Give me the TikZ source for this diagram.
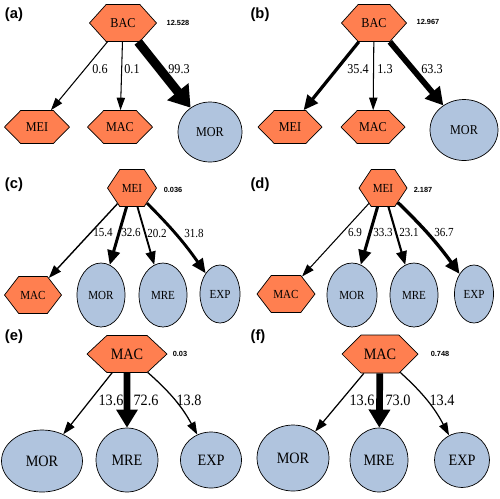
\documentclass[tikz,border=0pt]{standalone}
\usepackage{fontspec}
\setmainfont{Liberation Serif}[FakeStretch=0.9]
\newfontfamily\tagsans{Liberation Sans}
\usetikzlibrary{arrows.meta,shapes.geometric,shapes.symbols}
\definecolor{hexorange}{RGB}{255,127,80}
\definecolor{ovalblue}{RGB}{176,196,222}
\newcommand\scorefont{\tagsans\bfseries\fontsize{4.2}{5}\selectfont}
\newcommand\panelfont{\tagsans\bfseries\fontsize{8.4}{10}\selectfont}

\begin{document}
\begin{tikzpicture}[x=0.02cm,y=-0.02cm,
  hexa/.style={shape=signal, signal to=east and west, signal pointer angle=#1,
    draw, fill=hexorange, inner sep=0pt, line width=0.4pt},
  hexa/.default=96,
  oval/.style={ellipse, draw, fill=ovalblue, inner sep=0pt, line width=0.4pt},
  flow/.style={line width={max(0.6,#1*0.052)*1pt},
    -{Triangle[length=6.5pt 1.0, width=3.4pt 2.2]}},
  wt/.style={inner sep=0pt},
  score/.style={font=\scorefont, inner sep=0pt},
  panel/.style={font=\panelfont, inner sep=0pt},
  txt/.style={nodes={font=\fontsize{#1}{#1}\selectfont}}]
  \useasboundingbox (0,0) rectangle (500,498);

  % (a)
  \begin{scope}[txt=7.7]
  \node[panel] (pa) at (14,15) {(a)};
  \node[hexa=96, minimum width=1.34cm, minimum height=0.74cm] (bacA) at (123,23) {BAC};
  \node[score] (sa) at (178,23) {12.528};
  \node[hexa=91, minimum width=1.30cm, minimum height=0.66cm] (meiA) at (37,127) {MEI};
  \node[hexa=91, minimum width=1.30cm, minimum height=0.66cm] (macA) at (120,127) {MAC};
  \node[oval, minimum width=1.28cm, minimum height=1.20cm] (morA) at (210,132) {MOR};
  \draw[flow=0.6] (bacA) -- (meiA);
  \draw[flow=0.1] (bacA) -- (macA);
  \draw[flow=99.3] (bacA) -- (morA);
  \node[wt] (wa1) at (100,69) {0.6};
  \node[wt] (wa2) at (132,69) {0.1};
  \node[wt] (wa3) at (179,69) {99.3};
  \end{scope}

  % (b)
  \begin{scope}[txt=7.7]
  \node[panel] (pb) at (260,15) {(b)};
  \node[hexa=96, minimum width=1.30cm, minimum height=0.74cm] (bacB) at (374,23) {BAC};
  \node[score] (sb) at (428,22) {12.967};
  \node[hexa=91, minimum width=1.28cm, minimum height=0.66cm] (meiB) at (290,127) {MEI};
  \node[hexa=91, minimum width=1.28cm, minimum height=0.66cm] (macB) at (373,127) {MAC};
  \node[oval, minimum width=1.36cm, minimum height=1.22cm] (morB) at (464,130) {MOR};
  \draw[flow=35.4] (bacB) -- (meiB);
  \draw[flow=1.3] (bacB) -- (macB);
  \draw[flow=63.3] (bacB) -- (morB);
  \node[wt] (wb1) at (358,69) {35.4};
  \node[wt] (wb2) at (385,69) {1.3};
  \node[wt] (wb3) at (432,69) {63.3};
  \end{scope}

  % (c)
  \begin{scope}[txt=7]
  \node[panel] (pc) at (14,185) {(c)};
  \node[hexa=113, minimum width=0.98cm, minimum height=0.74cm] (meiC) at (132,188) {MEI};
  \node[score] (sc) at (173,190) {0.036};
  \node[hexa=105, minimum width=1.14cm, minimum height=0.74cm] (macC) at (33,295) {MAC};
  \node[oval, minimum width=0.96cm, minimum height=1.28cm] (morC) at (101,295) {MOR};
  \node[oval, minimum width=0.96cm, minimum height=1.28cm] (mreC) at (163,295) {MRE};
  \node[oval, minimum width=0.80cm, minimum height=1.16cm] (expC) at (220,294) {EXP};
  \draw[flow=15.4] (meiC) -- (macC);
  \draw[flow=32.6] (meiC) -- (morC);
  \draw[flow=20.2] (meiC) -- (mreC);
  \draw[flow=31.8] (meiC) to[bend left=5] (expC);
  \node[wt] (wc1) at (103,233) {15.4};
  \node[wt] (wc2) at (131,233) {32.6};
  \node[wt] (wc3) at (157,233) {20.2};
  \node[wt] (wc4) at (194,233) {31.8};
  \end{scope}

  % (d)
  \begin{scope}[txt=7]
  \node[panel] (pd) at (260,185) {(d)};
  \node[hexa=113, minimum width=0.96cm, minimum height=0.74cm] (meiD) at (383,188) {MEI};
  \node[score] (sd) at (423,190) {2.187};
  \node[hexa=105, minimum width=1.16cm, minimum height=0.74cm] (macD) at (286,294) {MAC};
  \node[oval, minimum width=1.00cm, minimum height=1.28cm] (morD) at (352,295) {MOR};
  \node[oval, minimum width=0.96cm, minimum height=1.28cm] (mreD) at (414,295) {MRE};
  \node[oval, minimum width=0.78cm, minimum height=1.16cm] (expD) at (474,294) {EXP};
  \draw[flow=6.9] (meiD) -- (macD);
  \draw[flow=33.3] (meiD) -- (morD);
  \draw[flow=23.1] (meiD) -- (mreD);
  \draw[flow=36.7] (meiD) to[bend left=5] (expD);
  \node[wt] (wd1) at (355,233) {6.9};
  \node[wt] (wd2) at (383,233) {33.3};
  \node[wt] (wd3) at (409,233) {23.1};
  \node[wt] (wd4) at (444,233) {36.7};
  \end{scope}

  % (e)
  \begin{scope}[txt=9]
  \node[panel] (pe) at (14,337) {(e)};
  \node[hexa=86, minimum width=1.60cm, minimum height=0.74cm] (macE) at (127,354) {MAC};
  \node[score] (se) at (180,354) {0.03};
  \node[oval, minimum width=1.62cm, minimum height=1.24cm] (morE) at (42,461) {MOR};
  \node[oval, minimum width=1.24cm, minimum height=1.28cm] (mreE) at (127,460) {MRE};
  \node[oval, minimum width=1.22cm, minimum height=1.12cm] (expE) at (211,460) {EXP};
  \draw[flow=13.6] (macE) -- (morE);
  \draw[flow=72.6] (macE) -- (mreE);
  \draw[flow=13.8] (macE) to[bend left=10] (expE);
  \node[wt] (we1) at (111,400) {13.6};
  \node[wt] (we2) at (146,400) {72.6};
  \node[wt] (we3) at (189,400) {13.8};
  \end{scope}

  % (f)
  \begin{scope}[txt=9]
  \node[panel] (pf) at (258,337) {(f)};
  \node[hexa=90, minimum width=1.52cm, minimum height=0.76cm] (macF) at (380,354) {MAC};
  \node[score] (sf) at (440,354) {0.748};
  \node[oval, minimum width=1.44cm, minimum height=1.32cm] (morF) at (293,458) {MOR};
  \node[oval, minimum width=1.16cm, minimum height=1.28cm] (mreF) at (379,460) {MRE};
  \node[oval, minimum width=1.10cm, minimum height=1.10cm] (expF) at (462,460) {EXP};
  \draw[flow=13.6] (macF) -- (morF);
  \draw[flow=73.0] (macF) -- (mreF);
  \draw[flow=13.4] (macF) to[bend left=10] (expF);
  \node[wt] (wf1) at (362,400) {13.6};
  \node[wt] (wf2) at (398,400) {73.0};
  \node[wt] (wf3) at (442,400) {13.4};
  \end{scope}
\end{tikzpicture}
\end{document}
